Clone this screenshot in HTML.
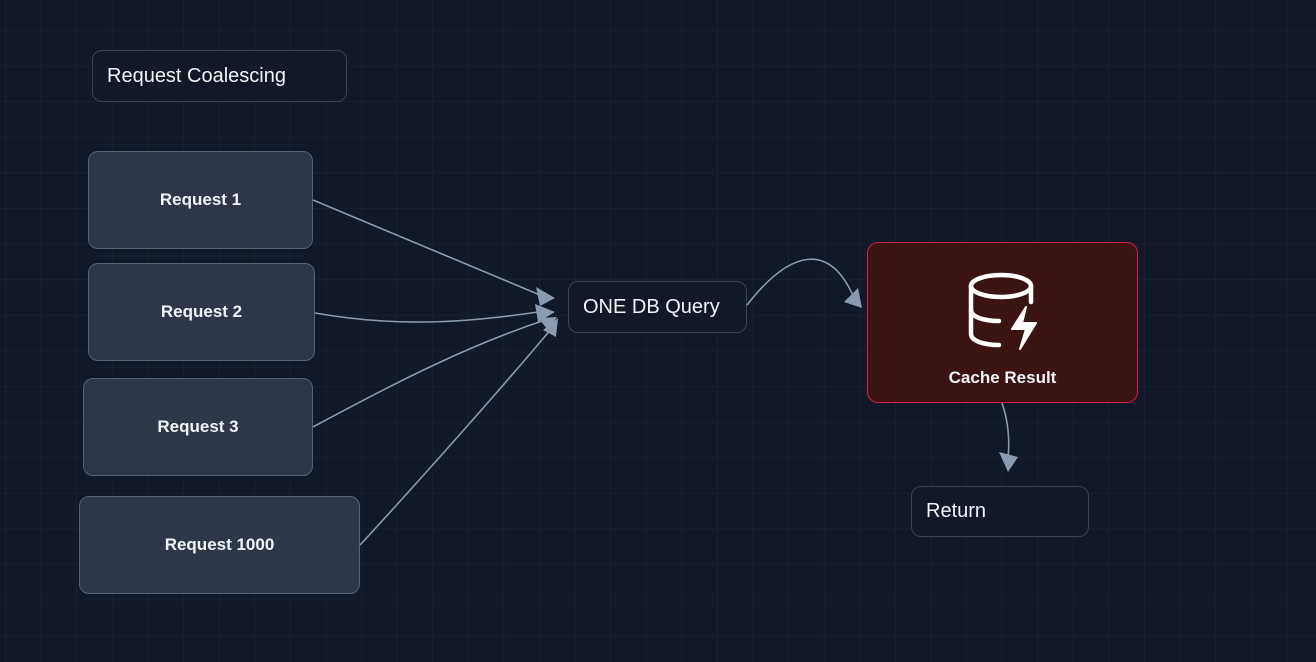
<!DOCTYPE html>
<html><head><meta charset="utf-8"><style>
html,body{margin:0;padding:0}
body{width:1316px;height:662px;overflow:hidden;background:#111827;position:relative;font-family:"Liberation Sans",sans-serif;
background-image:linear-gradient(to right,#19212f 1px,transparent 1px),linear-gradient(to bottom,#19212f 1px,transparent 1px);
background-size:35.6px 35.6px;background-position:5px 30px}
.n{position:absolute;box-sizing:border-box;display:flex;align-items:center;color:#f1f5f9}
.plain{background:#111827;border:1px solid #3a4354;border-radius:10px;font-size:20px;padding-left:14px}
.req{background:#2d3748;border:1.5px solid #55627a;border-radius:10px;justify-content:center;font-weight:bold;font-size:17px}
svg{position:absolute;left:0;top:0}
</style></head><body>
<div class="n plain" style="left:92px;top:50px;width:255px;height:52px">Request Coalescing</div>
<div class="n req" style="left:88px;top:151px;width:225px;height:98px">Request 1</div>
<div class="n req" style="left:88px;top:263px;width:227px;height:98px">Request 2</div>
<div class="n req" style="left:83px;top:378px;width:230px;height:98px">Request 3</div>
<div class="n req" style="left:79px;top:496px;width:281px;height:98px">Request 1000</div>
<div class="n plain" style="left:568px;top:281px;width:179px;height:52px">ONE DB Query</div>
<div class="n plain" style="left:911px;top:486px;width:178px;height:51px">Return</div>
<div class="n" style="left:867px;top:242px;width:271px;height:161px;background:#3b1313;border:1.5px solid #d61f45;border-radius:11px;flex-direction:column;justify-content:flex-end;padding-bottom:14px;font-weight:bold;font-size:17px">
<svg style="position:absolute;left:100px;top:28px" width="80" height="86" viewBox="0 0 80 86" fill="none" stroke="#fff" stroke-width="4.5" stroke-linecap="round" stroke-linejoin="round">
<ellipse cx="33" cy="15" rx="30" ry="11"/>
<path d="M3 15v48c0 7 13 11 28 11"/><path d="M63 15v16"/><path d="M3 39c0 7 13 11 28 11"/>
<path d="M58 36l-14 22h14l-6 20 16-26h-14z" fill="#fff" stroke-width="2"/>
</svg>
<span>Cache Result</span></div>
<svg width="1316" height="662" fill="none" stroke="#8a9bb0" stroke-width="1.6">
<path d="M313 200 C420 245 480 270 540 295"/>
<path d="M315 313 C400 328 470 322 538 312"/>
<path d="M313 427 C400 380 470 345 545 320"/>
<path d="M360 545 C420 480 500 390 552 328"/>
<path d="M747 305 C790 250 830 240 855 300"/>
<path d="M1002 403 C1008 420 1010 440 1008 458"/>
<g fill="#8a9bb0" stroke="none">
<path d="M555 298 L536 287 L540 306z"/>
<path d="M555 312 L535 304 L538 322z"/>
<path d="M557 317 L538 318 L548 330z"/>
<path d="M558 318 L543 330 L556 337z"/>
<path d="M862 308 L844 302 L858 288z"/>
<path d="M1008 472 L999 452 L1018 457z"/>
</g>
</svg>
</body></html>
